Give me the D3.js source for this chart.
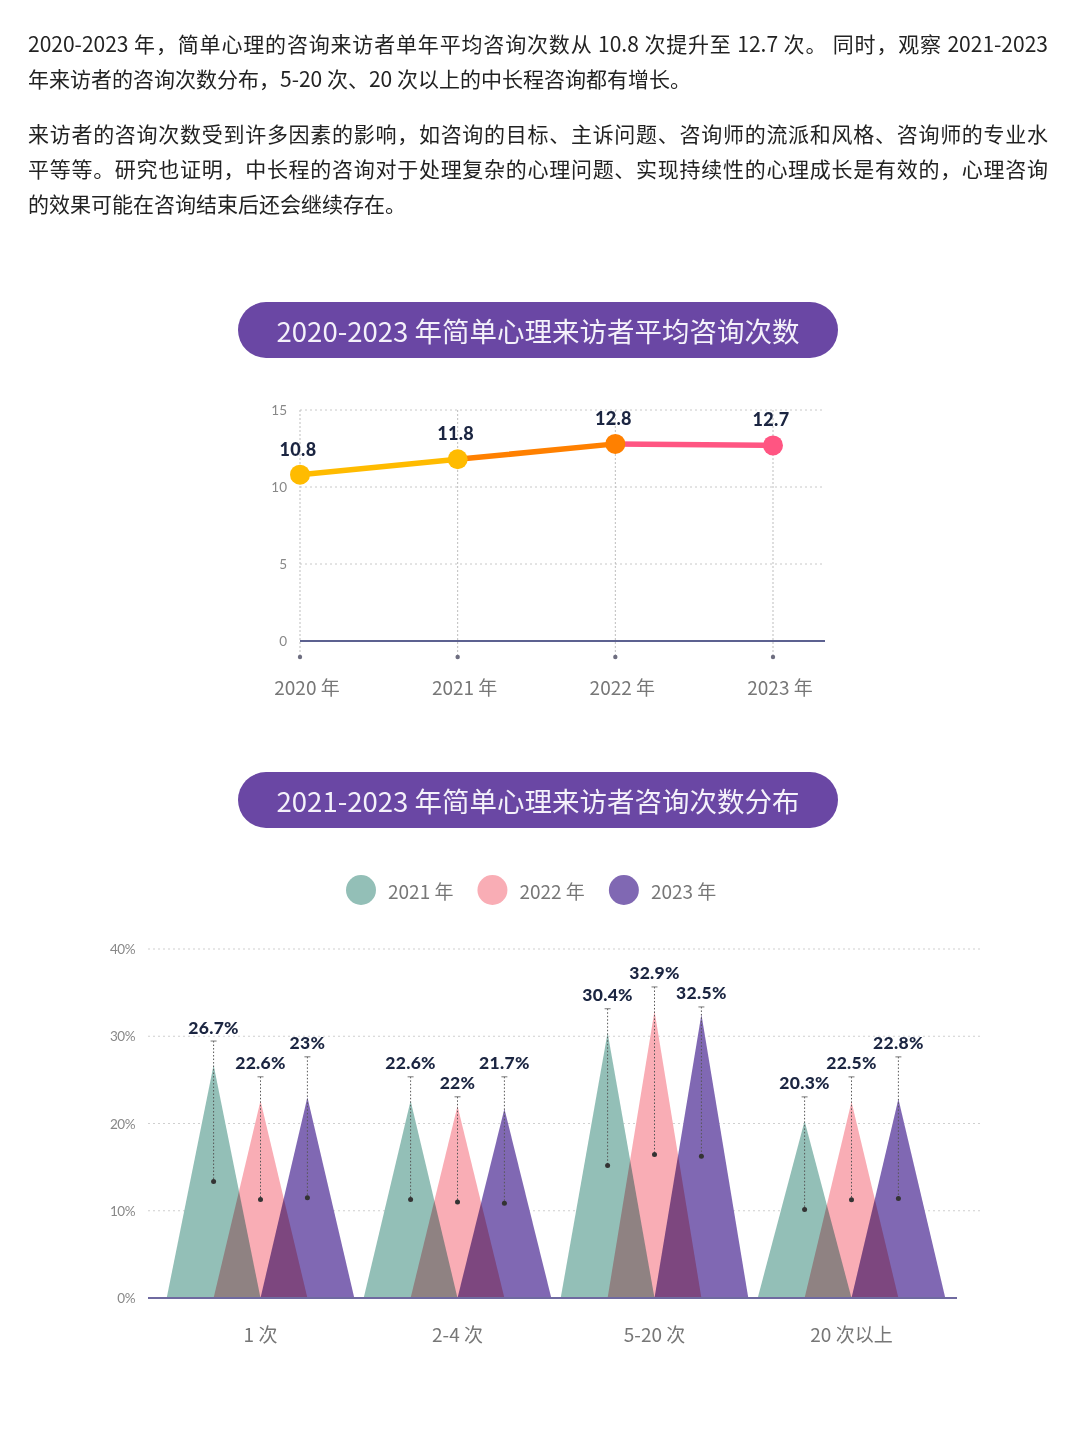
<!DOCTYPE html>
<html lang="zh-CN">
<head>
<meta charset="utf-8">
<script src="https://cdn.jsdelivr.net/npm/d3@7"></script>
<style>
  html, body { margin: 0; padding: 0; background: #fff; }
  body { width: 1080px; height: 1440px; position: relative; overflow: hidden;
         font-family: "Noto Sans CJK SC", "Noto Sans", sans-serif; }
  .para { position: absolute; left: 28px; width: 1020px; color: #222; font-size: 21px; line-height: 35px; }
  .para div { text-align: justify; text-align-last: justify; white-space: nowrap; }
  .para div.last { text-align-last: left; }
  svg { position: absolute; left: 0; top: 0; }
</style>
</head>
<body>
<div class="para" style="top:26px">
  <div>2020-2023 年，简单心理的咨询来访者单年平均咨询次数从 10.8 次提升至 12.7 次。 同时，观察 2021-2023</div>
  <div class="last">年来访者的咨询次数分布，5-20 次、20 次以上的中长程咨询都有增长。</div>
</div>
<div class="para" style="top:116px">
  <div>来访者的咨询次数受到许多因素的影响，如咨询的目标、主诉问题、咨询师的流派和风格、咨询师的专业水</div>
  <div>平等等。研究也证明，中长程的咨询对于处理复杂的心理问题、实现持续性的心理成长是有效的，心理咨询</div>
  <div class="last">的效果可能在咨询结束后还会继续存在。</div>
</div>
<div id="chart"></div>
<script>
// 图1：平均咨询次数
const years = ["2020 年", "2021 年", "2022 年", "2023 年"];
const avgVisits = [10.8, 11.8, 12.8, 12.7];
const lineTicks = [0, 5, 10, 15];

// 图2：咨询次数分布
const buckets = ["1 次", "2-4 次", "5-20 次", "20 次以上"];
const distYears = ["2021 年", "2022 年", "2023 年"];
const dist2021 = [26.7, 22.6, 30.4, 20.3];
const dist2022 = [22.6, 22, 32.9, 22.5];
const dist2023 = [23, 21.7, 32.5, 22.8];
const pctTicks = [0, 10, 20, 30, 40];

const titles = ["2020-2023 年简单心理来访者平均咨询次数", "2021-2023 年简单心理来访者咨询次数分布"];

const pointColors = ["#ffbb00", "#ffbb00", "#ff8000", "#ff5582"];
const distColors = ["#93bfb7", "#f9adb5", "#8068b3"];
const navy = "#1b2541";
const latin = "Lato, 'DejaVu Sans', sans-serif";

const W = 1080, H = 1440;
const svg = d3.select("#chart").append("svg").attr("width", W).attr("height", H);

// 标题胶囊
function pill(y, text) {
  const g = svg.append("g").attr("transform", `translate(238,${y})`);
  g.append("rect").attr("width", 600).attr("height", 56).attr("rx", 28).attr("fill", "#6a47a4");
  g.append("text").attr("x", 300).attr("y", 28).attr("text-anchor", "middle")
    .attr("dominant-baseline", "central").attr("fill", "#f4f1fa")
    .style("font-size", "27.5px").text(text);
}
pill(302, titles[0]);
pill(772, titles[1]);

// ---------- 折线图 ----------
{
  const x = d3.scalePoint().domain(years).range([300, 773]);
  const y = d3.scaleLinear().domain([0, 15]).range([641, 410]);
  const g = svg.append("g");

  // 横向网格
  g.selectAll("line.hgrid").data(lineTicks.filter(d => d > 0)).join("line")
    .attr("x1", 300).attr("x2", 825).attr("y1", d => y(d)).attr("y2", d => y(d))
    .attr("stroke", "#c8c8c8").attr("stroke-dasharray", "2,3");

  // 纵向虚线 + 底部小点
  g.selectAll("line.vgrid").data(years).join("line")
    .attr("x1", d => x(d)).attr("x2", d => x(d)).attr("y1", y(15)).attr("y2", 656)
    .attr("stroke", "#bdbdbd").attr("stroke-dasharray", "2,2");
  g.selectAll("circle.tick").data(years).join("circle")
    .attr("cx", d => x(d)).attr("cy", 657).attr("r", 2.2).attr("fill", "#6e6e80");

  // 0 轴
  g.append("line").attr("x1", 300).attr("x2", 825).attr("y1", y(0)).attr("y2", y(0))
    .attr("stroke", "#5c6190").attr("stroke-width", 2);

  // Y 刻度
  g.selectAll("text.ytick").data(lineTicks).join("text")
    .attr("x", 287).attr("y", d => y(d)).attr("text-anchor", "end")
    .attr("dominant-baseline", "central").attr("fill", "#888")
    .style("font-family", latin).style("font-size", "13.5px").text(d => d);

  // X 标签
  g.selectAll("text.xlab").data(years).join("text")
    .attr("x", d => x(d) + 7).attr("y", 686).attr("text-anchor", "middle")
    .attr("dominant-baseline", "central").attr("fill", "#777")
    .style("font-size", "19px").text(d => d);

  // 分段折线（颜色取终点色）
  const pts = years.map((yr, i) => ({ yr, v: avgVisits[i], c: pointColors[i] }));
  g.selectAll("line.seg").data(pts.slice(1)).join("line")
    .attr("x1", (d, i) => x(pts[i].yr)).attr("y1", (d, i) => y(pts[i].v))
    .attr("x2", d => x(d.yr)).attr("y2", d => y(d.v))
    .attr("stroke", d => d.c).attr("stroke-width", 5.5).attr("stroke-linecap", "round");

  g.selectAll("circle.pt").data(pts).join("circle")
    .attr("cx", d => x(d.yr)).attr("cy", d => y(d.v)).attr("r", 10).attr("fill", d => d.c);

  g.selectAll("text.val").data(pts).join("text")
    .attr("x", d => x(d.yr) - 2).attr("y", d => y(d.v) - 26)
    .attr("text-anchor", "middle").attr("dominant-baseline", "central")
    .attr("fill", navy).style("font-family", latin).style("font-weight", "900")
    .style("font-size", "18px").style("letter-spacing", "0.3px").text(d => d.v);
}

// ---------- 三角形分布图 ----------
{
  // 图例
  const lg = svg.append("g");
  let lx = 346;
  distYears.forEach((yr, i) => {
    lg.append("circle").attr("cx", lx + 15).attr("cy", 890).attr("r", 15).attr("fill", distColors[i]);
    const t = lg.append("text").attr("x", lx + 42).attr("y", 890).attr("dominant-baseline", "central")
      .attr("fill", "#777").style("font-size", "19px").text(yr);
    lx += 42 + t.node().getComputedTextLength() + 24;
  });

  const x = d3.scaleBand().domain(buckets).range([162, 950]);
  const xSub = d3.scalePoint().domain(distYears).range([0, x.bandwidth()]).padding(1.1);
  const half = xSub.step();
  const y = d3.scaleLinear().domain([0, 40]).range([1298, 949]);
  const base = y(0);
  const g = svg.append("g");

  g.selectAll("line.grid").data(pctTicks.filter(d => d > 0)).join("line")
    .attr("x1", 148).attr("x2", 980).attr("y1", d => y(d)).attr("y2", d => y(d))
    .attr("stroke", "#cfcfcf").attr("stroke-dasharray", "2,3");

  g.selectAll("text.ytick").data(pctTicks).join("text")
    .attr("x", 135).attr("y", d => y(d)).attr("text-anchor", "end")
    .attr("dominant-baseline", "central").attr("fill", "#888")
    .style("font-family", latin).style("font-size", "13.5px").style("letter-spacing", "-0.5px")
    .text(d => d + "%");

  const series = [dist2021, dist2022, dist2023];
  const tri = [];
  distYears.forEach((yr, si) => buckets.forEach((b, bi) => {
    tri.push({ b, si, yr, v: series[si][bi], c: distColors[si], cx: x(b) + xSub(yr) });
  }));

  // 标签避让：同组相邻标签太近时上下错开
  buckets.forEach(b => {
    const grp = tri.filter(d => d.b === b).sort((a, c) => a.si - c.si);
    grp.forEach((d, i) => {
      d.ly = y(d.v) - 38;
      if (i === 0) return;
      const p = grp[i - 1];
      if (Math.abs(d.ly - p.ly) < 20) {
        const down = p.ly + 20;
        d.ly = (d.v < p.v && down <= y(d.v) - 18) ? down : p.ly - 20;
      }
    });
  });

  g.append("g").style("isolation", "isolate")
    .selectAll("path").data(tri).join("path")
    .attr("d", d => `M${d.cx - half},${base}L${d.cx},${y(d.v)}L${d.cx + half},${base}Z`)
    .attr("fill", d => d.c).style("mix-blend-mode", "multiply");

  g.append("line").attr("x1", 148).attr("x2", 957).attr("y1", base).attr("y2", base)
    .attr("stroke", "#6f6aa0").attr("stroke-width", 2);

  // 引线与数值
  const top = d => d.ly + 14;
  g.selectAll("line.lead").data(tri).join("line")
    .attr("x1", d => d.cx).attr("x2", d => d.cx).attr("y1", top).attr("y2", d => y(d.v / 2))
    .attr("stroke", "#555").attr("stroke-width", 1).attr("stroke-dasharray", "1.5,2");
  g.selectAll("line.cap").data(tri).join("line")
    .attr("x1", d => d.cx - 3).attr("x2", d => d.cx + 3).attr("y1", top).attr("y2", top)
    .attr("stroke", "#777").attr("stroke-width", 1);
  g.selectAll("circle.dot").data(tri).join("circle")
    .attr("cx", d => d.cx).attr("cy", d => y(d.v / 2)).attr("r", 2.5).attr("fill", "#333");
  g.selectAll("text.val").data(tri).join("text")
    .attr("x", d => d.cx).attr("y", d => d.ly)
    .attr("text-anchor", "middle").attr("dominant-baseline", "central")
    .attr("fill", navy).style("font-family", latin).style("font-weight", "900")
    .style("font-size", "17.5px").style("letter-spacing", "0.3px").text(d => d.v + "%");

  g.selectAll("text.cat").data(buckets).join("text")
    .attr("x", d => x(d) + x.bandwidth() / 2).attr("y", 1333).attr("text-anchor", "middle")
    .attr("dominant-baseline", "central").attr("fill", "#777")
    .style("font-size", "19px").text(d => d);
}
</script>
</body>
</html>
